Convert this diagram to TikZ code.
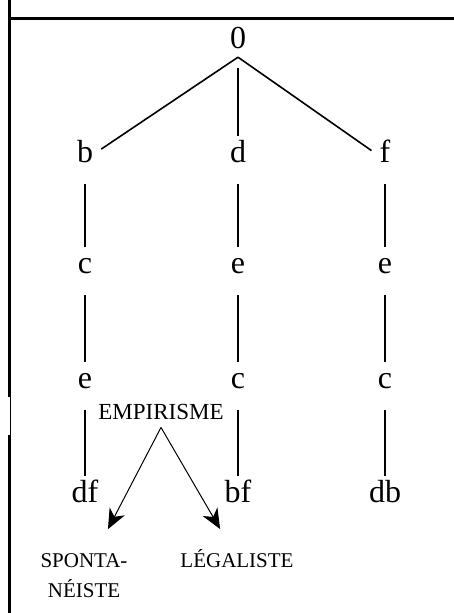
\documentclass[tikz,border=0pt]{standalone}
\usepackage{fontspec}
\setmainfont{Liberation Serif}
\usetikzlibrary{arrows.meta}

\begin{document}
\begin{tikzpicture}[x=1pt, y=-1pt,
    letter/.style={font=\fontsize{32}{36}\selectfont, anchor=base,
      text height=23pt, text depth=19pt, inner ysep=3pt, inner xsep=8pt},
    small/.style={font=\fontsize{21}{30}\selectfont, anchor=base, align=center},
    branch/.style={line width=1.6pt},
    arrow/.style={line width=1pt, -{Stealth[length=20pt,width=17pt,inset=6pt]},
      shorten >=21pt}]
    \useasboundingbox (0,0) rectangle (454,613);

    % frame
    \draw [line width=3pt] (9.5,0) -- (9.5,397);
    \draw [line width=1pt] (10,397) -- (10,435);
    \draw [line width=3pt] (9.5,435) -- (9.5,613);
    \draw [line width=3pt] (8,18.5) -- (454,18.5);

    \node [letter, text depth=6pt] (zero) at (238, 48) {0};

    \node [letter] (l1) at (85, 162) {b};
    \node [letter] (m1) at (238, 162) {d};
    \node [letter] (r1) at (385, 162) {f};

    \node [letter] (l2) at (85, 273) {c};
    \node [letter] (m2) at (238, 273) {e};
    \node [letter] (r2) at (385, 273) {e};

    \node [letter] (l3) at (85, 388) {e};
    \node [letter] (m3) at (238, 388) {c};
    \node [letter] (r3) at (385, 388) {c};

    \node [letter] (l4) at (85, 502) {df};
    \node [letter] (m4) at (238, 502) {bf};
    \node [letter] (r4) at (385, 502) {db};

    \draw [branch] (zero.south) -- (l1);
    \draw [branch] (zero.south) -- (r1);
    \draw [branch, shorten <=11pt] (zero) -- (m1);

    \draw [branch] (l1) -- (l2) -- (l3) -- (l4);
    \draw [branch] (m1) -- (m2) -- (m3) -- (m4);
    \draw [branch] (r1) -- (r2) -- (r3) -- (r4);

    \node [small, font=\fontsize{23}{30}\selectfont, inner ysep=8pt] (emp) at (161, 419) {EMPIRISME};
    % base of a two-line node is its last line
    \node [small] (spont) at (84, 597) {SPONTA-\\NÉISTE};
    \node [small] (legal) at (237, 567) {LÉGALISTE};

    \draw [arrow, shorten >=23pt] (emp.south) -- (spont);
    \draw [arrow, shorten >=19pt] (emp.south) -- (legal);

  \end{tikzpicture}
\end{document}
